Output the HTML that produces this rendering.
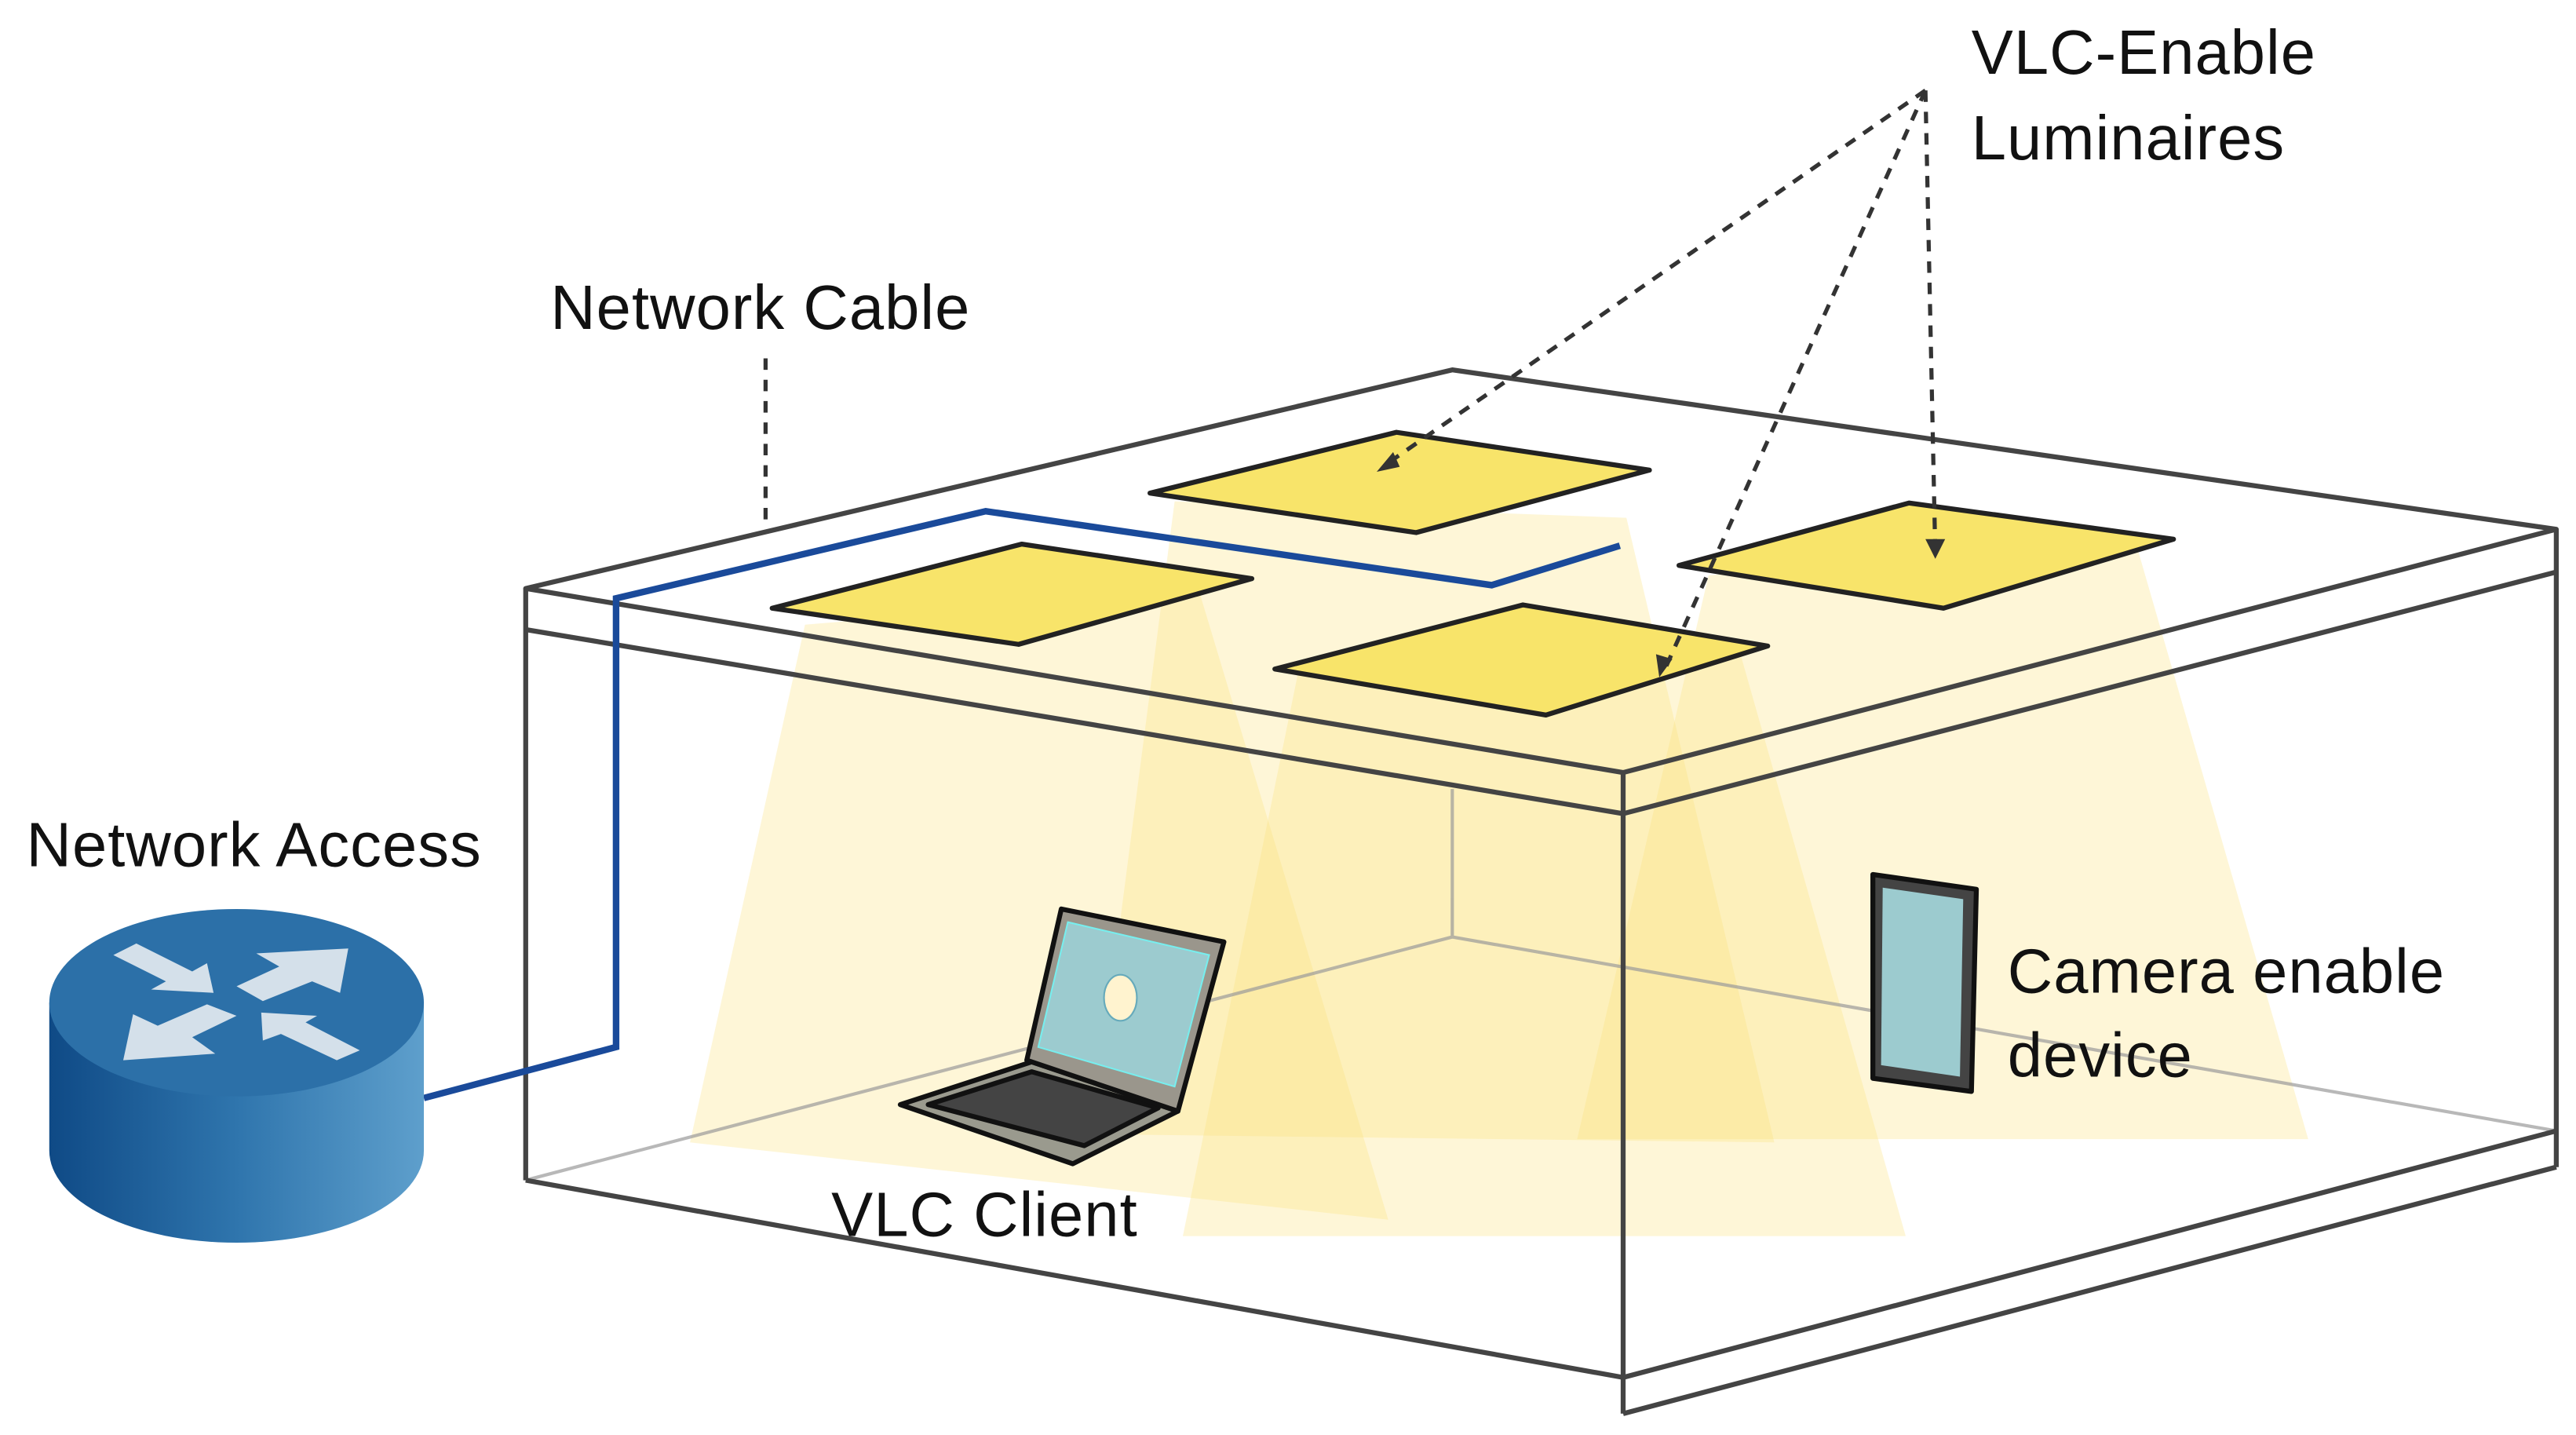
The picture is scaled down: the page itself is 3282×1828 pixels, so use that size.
<!DOCTYPE html>
<html><head><meta charset="utf-8"><style>
html,body{margin:0;padding:0;background:#fff;width:3282px;height:1828px;overflow:hidden}
svg{display:block}
text{font-family:"Liberation Sans","DejaVu Sans",sans-serif;fill:#111;letter-spacing:0.5px}
</style></head><body>
<svg width="3282" height="1828" viewBox="0 0 1568 873" preserveAspectRatio="none" xmlns="http://www.w3.org/2000/svg">
<defs>
<linearGradient id="side" x1="0" x2="1" y1="0" y2="0">
<stop offset="0" stop-color="#0f4a86"/><stop offset="0.5" stop-color="#2f75ad"/><stop offset="1" stop-color="#5e9fcc"/>
</linearGradient>
</defs>
<rect width="1568" height="873" fill="#fff"/>
<!-- light cones -->
<g fill="#fbe27a" fill-opacity="0.3">
<polygon points="490,380 730,360 845,742 420,695"/>
<polygon points="715,305 990,315 1080,695 665,690"/>
<polygon points="790,410 1060,400 1160,752 720,752"/>
<polygon points="1040,350 1300,330 1405,693 960,693"/>
</g>
<!-- floor/back lines -->
<g stroke="#9a9a9a" stroke-width="2" fill="none" opacity="0.7">
<line x1="884" y1="570" x2="320" y2="718"/>
<line x1="884" y1="570" x2="1556" y2="688"/>
<line x1="884" y1="480" x2="884" y2="570"/>
</g>
<!-- box -->
<g stroke="#444" stroke-width="3" fill="none" stroke-linejoin="round">
<polygon points="320,358 884,225 1556,322 988,470"/>
<polyline points="320,383 988,495 1556,348"/>
<line x1="1556" y1="322" x2="1556" y2="710"/>
<line x1="320" y1="358" x2="320" y2="718"/>
<line x1="988" y1="470" x2="988" y2="860"/>
<polyline points="320,718 988,838 1556,688"/>
<line x1="988" y1="860" x2="1556" y2="710"/>
</g>
<!-- lamps -->
<g fill="#f8e46a" stroke="#222" stroke-width="3" stroke-linejoin="round">
<polygon points="470,370 622,331 762,352 620,392"/>
<polygon points="700,300 850,263 1004,286 862,324"/>
<polygon points="1022,344 1162,306 1323,328 1183,370"/>
<polygon points="776,407 927,368 1076,393 941,435"/>
</g>
<!-- cable -->
<polyline points="258,668 375,637 375,364 600,311 908,356 986,332" fill="none" stroke="#1a4a9a" stroke-width="4"/>
<!-- dashed -->
<g stroke="#333" stroke-width="2.5" stroke-dasharray="7,6" fill="none">
<line x1="1172" y1="55" x2="843" y2="283"/>
<line x1="1172" y1="55" x2="1013" y2="408"/>
<line x1="1172" y1="55" x2="1178" y2="336"/>
<line x1="466" y1="218" x2="466" y2="316"/>
</g>
<g fill="#333">
<polygon points="838,287 848,275 852,284"/>
<polygon points="1010,412 1008,398 1018,401"/>
<polygon points="1178,340 1172,328 1184,328"/>
</g>
<!-- router -->
<path d="M30,610 L30,700 A114,56 0 0 0 258,700 L258,610 Z" fill="url(#side)"/>
<ellipse cx="144" cy="610" rx="114" ry="57" fill="#2c70a8"/>
<g fill="#d4e0ea">
<polygon points="69,581 83,574 117,591 126,586 130,604 92,602 101,597"/>
<polygon points="156,580 212,577 207,604 190,597 160,609 144,600 170,588"/>
<polygon points="126,611 144,618 117,631 131,641 75,645 81,617 96,624"/>
<polygon points="159,616 193,618 186,622 219,639 205,645 171,629 160,633"/>
</g>
<!-- laptop -->
<g stroke="#111" stroke-width="3" stroke-linejoin="round">
<polygon points="548,672 628,646 717,676 653,708" fill="#9a9a8e"/>
<polygon points="565,672 628,652 705,674 660,697" fill="#444"/>
<polygon points="646,553 745,573 717,676 625,645" fill="#9a968c"/>
</g>
<polygon points="650,561 736,581 715,661 632,637" fill="#9ccbcf" stroke="#7ee" stroke-width="1"/>
<ellipse cx="682" cy="607" rx="10" ry="14" fill="#fff3cf" stroke="#6ab" stroke-width="1"/>
<!-- tablet -->
<polygon points="1140,532 1203,541 1200,664 1140,656" fill="#444" stroke="#111" stroke-width="3" stroke-linejoin="round"/>
<polygon points="1146,540 1195,547 1193,655 1145,648" fill="#9ccbcf"/>
<!-- labels -->
<text x="1200" y="45" font-size="38">VLC-Enable</text>
<text x="1200" y="97" font-size="38">Luminaires</text>
<text x="335" y="200" font-size="38">Network Cable</text>
<text x="16" y="527" font-size="38">Network Access</text>
<text x="1222" y="604" font-size="38">Camera enable</text>
<text x="1222" y="655" font-size="38">device</text>
<text x="506" y="752" font-size="38">VLC Client</text>
</svg>
</body></html>
